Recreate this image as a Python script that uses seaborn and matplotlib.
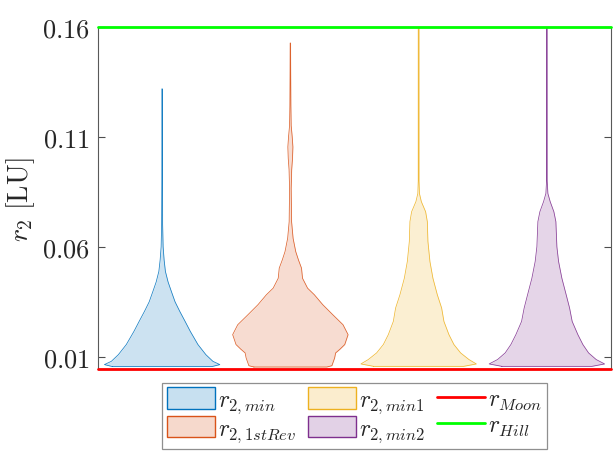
import numpy as np
import matplotlib
matplotlib.use("Agg")
import matplotlib.pyplot as plt
from matplotlib.patches import Patch
from matplotlib.lines import Line2D
import seaborn as sns

# Reference radii in lunar units (LU)
R_MOON = 0.0045
R_HILL = 0.16

legend_labels = [r"$r_{2,min}$", r"$r_{2,1stRev}$", r"$r_{2,min1}$", r"$r_{2,min2}$"]
moon_label = r"$r_{Moon}$"
hill_label = r"$r_{Hill}$"
y_label = r"$r_2\ \mathrm{[LU]}$"
yticks = [0.01, 0.06, 0.11, 0.16]
ytick_labels = ["0.01", "0.06", "0.11", "0.16"]

# Density profiles of each distribution: r2 levels [LU] and relative density
r2_min_levels = [0.0056, 0.0065, 0.0080, 0.0110, 0.0156, 0.0216, 0.0262, 0.0307,
                 0.0350, 0.0397, 0.0440, 0.0488, 0.0540, 0.0600, 0.0700, 0.0900, 0.1317]
r2_min_density = [50, 58, 51, 44, 36, 28.3, 23, 17.7,
                  13, 9.3, 6, 3.3, 2, 1.0, 0.5, 0.3, 0.2]

r2_1strev_levels = [0.0054, 0.0060, 0.0073, 0.0095, 0.0118, 0.0135, 0.0156, 0.0201,
                    0.0246, 0.0291, 0.0337, 0.0382, 0.0412, 0.0457, 0.0503, 0.0540,
                    0.0578, 0.0638, 0.0714, 0.0865, 0.0950, 0.1000, 0.1053, 0.1100,
                    0.1150, 0.1242, 0.1400, 0.1525]
r2_1strev_density = [36, 41, 42, 43.7, 44.7, 49, 53.7, 57,
                     52, 42, 32, 23.7, 17, 12, 11, 8,
                     5.3, 2.7, 1.2, 0.8, 1.3, 2.1, 2.5, 1.8,
                     0.8, 0.5, 0.3, 0.2]

r2_min1_levels = [0.0057, 0.0068, 0.0088, 0.0118, 0.0156, 0.0201, 0.0261, 0.0322,
                  0.0382, 0.0457, 0.0533, 0.0624, 0.0714, 0.0759, 0.0805, 0.0842,
                  0.0900, 0.1600]
r2_min1_density = [45, 57.7, 50.3, 42, 35.3, 30.3, 25.3, 23,
                   18.7, 14.3, 11.3, 9.3, 8.7, 7, 2.7, 0.8,
                   0.4, 0.4]

r2_min2_levels = [0.0057, 0.0068, 0.0088, 0.0118, 0.0156, 0.0201, 0.0261, 0.0322,
                  0.0382, 0.0457, 0.0533, 0.0600, 0.0714, 0.0759, 0.0805, 0.0842,
                  0.0900, 0.1600]
r2_min2_density = [45, 57.7, 49.3, 41.7, 36, 31, 25.3, 22.7,
                   19.3, 15, 11.7, 10, 9, 7, 3.3, 1.0,
                   0.3, 0.3]

profiles = [
    (r2_min_levels, r2_min_density),
    (r2_1strev_levels, r2_1strev_density),
    (r2_min1_levels, r2_min1_density),
    (r2_min2_levels, r2_min2_density),
]
colors = ["#0072BD", "#D95319", "#EDB120", "#7E2F8E"]
FILL_ALPHA = 0.2
HALF_WIDTH = 0.45

sns.set_style("white")
plt.rcParams["mathtext.fontset"] = "cm"
plt.rcParams["font.family"] = ["DejaVu Serif"]

fig = plt.figure(figsize=(6.13, 4.56), dpi=100)
ax = fig.add_axes([98 / 613, 86 / 456, 513 / 613, 342.5 / 456])

for i, ((levels, density), col) in enumerate(zip(profiles, colors)):
    lev = np.asarray(levels, dtype=float)
    half = np.asarray(density, dtype=float) / max(density) * HALF_WIDTH
    pos = i + 1
    ax.fill_betweenx(lev, pos - half, pos + half, color=col, alpha=FILL_ALPHA,
                     linewidth=0, zorder=2)
    outline_x = np.concatenate([pos - half, (pos + half)[::-1], [pos - half[0]]])
    outline_y = np.concatenate([lev, lev[::-1], [lev[0]]])
    sns.lineplot(x=outline_x, y=outline_y, sort=False, estimator=None,
                 color=col, linewidth=0.55, alpha=0.9, ax=ax, zorder=3)

ax.axhline(R_MOON, color="#FF0000", linewidth=2.0, clip_on=False, zorder=6)
ax.axhline(R_HILL, color="#00FF00", linewidth=2.0, clip_on=False, zorder=6)

ax.set_xlim(0.5, 4.5)
ax.set_ylim(R_MOON, R_HILL)
ax.set_xticks([])
ax.set_yticks(yticks)
ax.set_yticklabels([rf"${t}$" for t in ytick_labels])
ax.tick_params(axis="y", which="both", direction="in", length=5, width=0.8,
               color="0.3", labelsize=19, pad=6, left=True, right=True,
               labelcolor="#262626")
ax.set_ylabel("")
fig.text(20.5 / 613, 1 - 200 / 456, y_label, rotation=90, ha="center",
         va="center", fontsize=20, color="#262626")
for side in ["left", "right", "top", "bottom"]:
    ax.spines[side].set_color("0.35")
    ax.spines[side].set_linewidth(0.8)

handles = [Patch(facecolor=matplotlib.colors.to_rgba(c, FILL_ALPHA * 1.1),
                 edgecolor=c, linewidth=1.0) for c in colors]
handles += [Line2D([], [], color="#FF0000", linewidth=2.0),
            Line2D([], [], color="#00FF00", linewidth=2.0)]
labels = legend_labels + [moon_label, hill_label]
leg = ax.legend(handles, labels, loc="upper center", bbox_to_anchor=(0.5, -0.04),
                ncol=3, fontsize=17, frameon=True, fancybox=False,
                handlelength=2.05, handleheight=1.0, handletextpad=0.12,
                columnspacing=0.5, labelspacing=0.05, borderpad=0.2,
                borderaxespad=0)
leg.get_frame().set_edgecolor("0.45")
leg.get_frame().set_linewidth(0.9)

fig.savefig("out.png", dpi=100)
